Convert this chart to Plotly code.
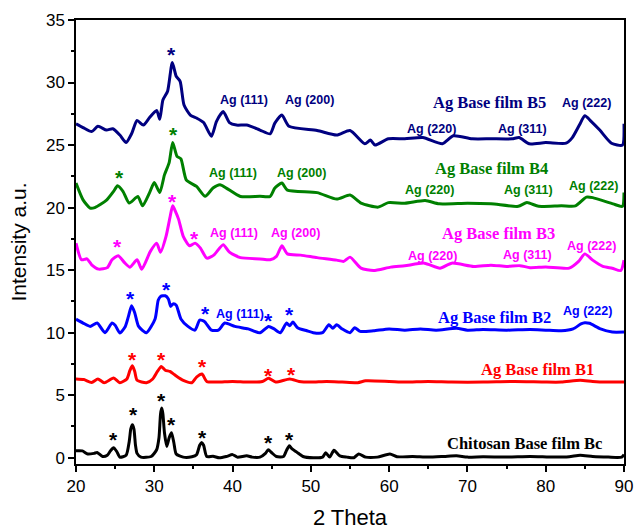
import plotly.graph_objects as go

# ---- XRD patterns (2-theta in degrees, intensity in arbitrary units, stacked) ----
bc_x = [20, 20.8, 21.5, 22.3, 22.7, 23.4, 24.0, 24.4, 24.8, 25.2, 25.6, 26.4, 26.8, 27.0, 27.2, 27.4, 27.6, 27.8, 28.3,
        29.6, 30.3, 30.6, 30.8, 30.95, 31.1, 31.3, 31.6, 31.9, 32.2, 32.5, 32.8, 33.7, 34.8, 35.4, 35.8, 36.05, 36.3,
        36.7, 37.5, 38.3, 39.2, 40.0, 40.6, 41.8, 42.5, 43.5, 44.2, 44.56, 45.0, 45.6, 46.5, 46.9, 47.25, 47.6, 48.2,
        49.0, 50.3, 51.5, 51.9, 52.4, 52.95, 53.7, 54.6, 55.5, 56.1, 57.0, 58.5, 60.1, 61.0, 63.0, 65.0, 67.0, 68.6,
        70.0, 72.0, 75.0, 78.0, 81.0, 83.0, 84.4, 86.0, 88.0, 89.7, 90]
bc_y = [0.56, 0.55, 0.3, 0.35, 0.42, 0.1, 0.2, 0.55, 0.8, 0.5, 0.05, 0.2, 1.3, 2.3, 2.64, 2.3, 1.0, 0.35, 0.05,
        0.1, 0.64, 1.6, 3.5, 3.97, 3.5, 2.0, 0.9, 1.6, 2.0, 1.2, 0.3, 0.05, 0.08, 0.24, 1.0, 1.22, 1.0,
        0.1, 0.12, 0.0, 0.1, 0.25, 0.05, 0.15, 0.05, 0.05, 0.35, 0.64, 0.4, 0.1, 0.1, 0.6, 0.96, 0.7, 0.45,
        0.1, 0.0, 0.05, 0.4, 0.05, 0.6, 0.15, 0.05, 0.0, 0.3, 0.05, 0.05, 0.3, 0.08, 0.1, 0.05, 0.1, 0.15,
        0.05, 0.08, 0.05, 0.1, 0.05, 0.08, 0.2, 0.1, 0.05, 0.05, 0.25]

b1_x = [20, 21.0, 22.0, 22.8, 23.6, 24.8, 25.6, 26.5, 26.9, 27.2, 27.5, 27.8, 29.0, 29.8, 30.4, 30.9, 31.4, 32.0,
        32.6, 33.7, 34.8, 35.4, 36.1, 36.7, 38, 40, 42, 43.8, 44.6, 45.5, 47.3, 48.5, 50, 52, 54, 56, 57, 60, 62,
        65, 68, 72, 76, 80, 82, 84.4, 86, 88, 90]
b1_y = [6.3, 6.25, 6.02, 6.3, 6.0, 6.37, 6.0, 6.3, 7.0, 7.35, 6.9, 6.2, 6.0, 6.3, 6.9, 7.3, 7.0, 6.9,
        6.63, 6.18, 6.0, 6.45, 6.69, 6.1, 6.05, 6.1, 6.05, 6.1, 6.35, 6.05, 6.3, 6.1, 6.05, 6.1, 6.05, 6.0, 6.15,
        6.1, 6.05, 6.1, 6.05, 6.05, 6.1, 6.05, 6.05, 6.2, 6.1, 6.05, 6.05]

b2_x = [20, 20.9, 21.8, 22.7, 23.7, 24.6, 25.0, 25.6, 26.3, 26.7, 27.1, 27.5, 28.0, 29.0, 30.1, 30.5, 30.8, 31.4,
        31.8, 32.1, 32.4, 32.8, 33.4, 34.3, 35.2, 35.8, 36.4, 37.3, 38.2, 39.0, 40.3, 42.0, 43.5, 44.6, 45.3, 46.1,
        46.9, 47.3, 47.7, 48.3, 49.5, 50.3, 51.5, 52.3, 52.8, 53.3, 54.0, 55.0, 55.6, 56.3, 58, 60, 62, 64, 66,
        68.6, 70, 72, 75, 78, 80, 82, 83.5, 84.5, 85.0, 85.6, 87, 88.5, 90]
b2_y = [11.08, 10.77, 10.5, 10.77, 10.0, 10.77, 10.6, 9.97, 10.5, 11.3, 12.15, 11.6, 10.5, 10.0, 11.1, 12.6, 12.9,
        12.95, 12.7, 12.1, 12.3, 12.2, 11.1, 10.5, 10.2, 11.0, 10.9, 10.2, 10.2, 10.77, 10.5, 10.3, 10.0, 10.5,
        10.3, 10.0, 10.77, 10.55, 10.85, 10.4, 10.15, 10.0, 10.0, 10.63, 10.35, 10.63, 10.3, 10.0, 10.4, 10.1,
        10.15, 10.3, 10.2, 10.3, 10.2, 10.35, 10.2, 10.25, 10.2, 10.25, 10.2, 10.15, 10.3, 10.7, 10.8, 10.75,
        10.3, 10.05, 10.05]

b3_x = [20, 20.7, 21.4, 22.0, 22.9, 24.0, 24.6, 25.4, 26.2, 26.9, 27.8, 28.4, 29.5, 30.3, 30.8, 31.5, 32.0, 32.35,
        32.7, 33.1, 33.7, 34.5, 35.2, 35.9, 36.7, 37.6, 38.8, 39.6, 41.0, 43.5, 44.8, 45.6, 46.3, 47.0, 48.7, 50.8,
        53.3, 54.2, 55.0, 56.4, 58.0, 60.2, 62.0, 64.5, 66.5, 68.0, 70.8, 73, 75, 76.7, 78, 80, 83.0, 84.2, 85.0,
        86.0, 87.3, 88.5, 89.6, 90]
b3_y = [17.16, 15.83, 15.9, 15.43, 15.08, 15.2, 15.83, 16.15, 15.6, 15.24, 15.83, 15.08, 16.5, 17.16, 16.44, 17.7,
        19.2, 20.14, 19.7, 19.08, 17.7, 16.95, 17.16, 16.76, 15.96, 16.2, 17.03, 16.44, 16.0, 15.9, 15.83, 16.1,
        16.95, 16.3, 16.2, 16.0, 15.8, 15.7, 16.04, 15.16, 14.97, 15.24, 15.35, 15.56, 15.16, 15.56, 15.3, 15.4,
        15.3, 15.36, 15.2, 15.25, 15.16, 15.7, 16.3, 15.8, 15.3, 15.15, 14.97, 15.8]

b4_x = [20, 20.9, 21.8, 22.4, 23.9, 24.8, 25.3, 26.0, 26.8, 27.9, 28.5, 29.4, 30.0, 30.7, 31.3, 31.9, 32.35, 32.9,
        33.4, 34.1, 35.4, 36.5, 37.5, 38.4, 39.2, 41.0, 43.5, 44.8, 45.4, 46.3, 47.0, 50.8, 53.3, 55.0, 56.4, 58.6,
        59.9, 62.0, 64.6, 66.4, 70, 73, 76.5, 77.6, 79.1, 82, 83.8, 85.2, 86.0, 88.6, 89.8, 90]
b4_y = [21.96, 20.62, 19.96, 20.0, 20.6, 21.3, 21.74, 21.3, 20.36, 20.89, 20.14, 21.2, 22.0, 21.2, 22.62, 23.6, 25.2,
        24.1, 23.9, 22.2, 21.69, 20.9, 21.56, 21.82, 21.56, 20.89, 20.9, 20.89, 21.56, 21.96, 21.4, 21.2, 20.68,
        21.0, 20.36, 20.04, 20.4, 20.35, 20.57, 20.3, 20.35, 20.3, 20.1, 20.4, 20.1, 20.15, 20.14, 20.84, 20.8,
        20.3, 20.1, 21.2]

b5_x = [20, 20.9, 22.0, 22.8, 23.9, 24.7, 25.6, 26.4, 27.1, 27.8, 28.6, 29.4, 30.3, 30.7, 31.1, 31.7, 32.3, 32.8,
        33.3, 33.8, 34.6, 35.4, 36.3, 37.3, 37.95, 38.8, 39.6, 40.5, 41.8, 43.5, 44.8, 45.4, 46.3, 47.2, 50.8, 53.3,
        55.0, 56.9, 57.6, 58.2, 59.9, 62, 64.3, 66.8, 68.2, 70.6, 73, 75.7, 76.6, 77.9, 80, 82.6, 83.4, 84.3, 85.0,
        85.8, 86.9, 88.4, 89.8, 90]
b5_y = [26.7, 26.4, 26.08, 26.5, 26.2, 26.3, 25.8, 25.2, 25.9, 26.96, 26.6, 27.2, 27.76, 27.06, 28.6, 29.3, 31.6,
        30.5, 30.1, 28.2, 27.4, 27.16, 26.8, 25.7, 26.9, 27.68, 26.8, 26.6, 26.6, 26.2, 25.9, 26.75, 27.4, 26.5,
        26.16, 25.8, 26.16, 25.1, 25.4, 25.0, 25.5, 25.5, 25.6, 25.1, 25.74, 25.5, 25.5, 25.5, 25.6, 25.1, 25.2,
        25.15, 25.6, 26.6, 27.34, 26.9, 26.2, 25.15, 25.0, 26.7]

series_names = ["Chitosan Base film Bc", "Ag Base film B1", "Ag Base film B2",
                "Ag Base film B3", "Ag Base film B4", "Ag Base film B5"]
series_colors = ["#000000", "#FF0000", "#0000FF", "#FF00FF", "#008000", "#000080"]
series_x = [bc_x, b1_x, b2_x, b3_x, b4_x, b5_x]
series_y = [bc_y, b1_y, b2_y, b3_y, b4_y, b5_y]

# label positions for the series names (data coords)
name_pos = [(77.35, 1.17), (79.0, 7.03), (73.5, 11.25), (74.0, 17.9), (73.1, 23.1), (72.8, 28.4)]

# chitosan reflections (asterisks) per pattern
star_pos = [
    [(24.77, 1.5), (27.3, 3.5), (30.95, 4.69), (32.2, 2.77), (36.1, 1.7), (44.56, 1.3), (47.25, 1.57)],
    [(27.2, 7.9), (30.95, 7.9), (36.1, 7.35), (44.56, 6.63), (47.5, 6.77)],
    [(27.0, 12.85), (31.5, 13.56), (36.6, 11.65), (44.65, 11.03), (47.3, 11.5)],
    [(25.3, 17.0), (32.35, 20.57), (35.2, 17.64)],
    [(25.5, 22.5), (32.4, 25.9)],
    [(32.2, 32.3)],
]

# silver reflections: (text, x, y) per pattern
ag_labels = [
    [],
    [],
    [("Ag (111)", 40.9, 11.5), ("Ag (222)", 85.4, 11.7)],
    [("Ag (111)", 40.2, 17.96), ("Ag (200)", 48.0, 17.96), ("Ag (220)", 65.5, 16.17),
     ("Ag (311)", 77.7, 16.2), ("Ag (222)", 85.9, 16.97)],
    [("Ag (111)", 40.0, 22.8), ("Ag (200)", 48.8, 22.8), ("Ag (220)", 65.1, 21.37),
     ("Ag (311)", 77.85, 21.37), ("Ag (222)", 86.1, 21.7)],
    [("Ag (111)", 41.4, 28.6), ("Ag (200)", 49.8, 28.6), ("Ag (220)", 65.4, 26.3),
     ("Ag (311)", 77.0, 26.3), ("Ag (222)", 85.2, 28.35)],
]

x_ticks = [20, 30, 40, 50, 60, 70, 80, 90]
y_ticks = [0, 5, 10, 15, 20, 25, 30, 35]

SANS = "Liberation Sans, Arial, sans-serif"
SERIF = "Liberation Serif, Times New Roman, serif"

fig = go.Figure()
for xs, ys, col, name in zip(series_x, series_y, series_colors, series_names):
    fig.add_trace(go.Scatter(x=xs, y=ys, mode="lines", name=name,
                             line=dict(color=col, width=3, shape="spline", smoothing=0.6),
                             showlegend=False))

annotations = []
for (nx, ny), col, name in zip(name_pos, series_colors, series_names):
    annotations.append(dict(x=nx, y=ny, text="<b>%s</b>" % name, showarrow=False,
                            font=dict(family=SERIF, size=16.5, color=col),
                            xanchor="center", yanchor="middle"))
for stars, col in zip(star_pos, series_colors):
    for sx, sy in stars:
        annotations.append(dict(x=sx, y=sy, text="<b>*</b>", showarrow=False,
                                font=dict(family=SANS, size=21, color=col),
                                xanchor="center", yanchor="middle", yshift=-1))
for labels, col in zip(ag_labels, series_colors):
    for txt, lx, ly in labels:
        annotations.append(dict(x=lx, y=ly, text="<b>%s</b>" % txt, showarrow=False,
                                font=dict(family=SANS, size=12.5, color=col),
                                xanchor="center", yanchor="middle"))

axis_common = dict(showline=True, linecolor="black", linewidth=1.5, mirror=True,
                   ticks="outside", ticklen=6, tickwidth=1.5, tickcolor="black",
                   showgrid=False, zeroline=False, automargin=False,
                   tickfont=dict(family=SANS, size=17, color="black"))

fig.update_layout(
    width=636, height=531,
    margin=dict(l=76, r=12, t=20, b=67),
    paper_bgcolor="white", plot_bgcolor="white",
    annotations=annotations,
    xaxis=dict(range=[20, 90], tickvals=x_ticks,
               minor=dict(ticks="outside", ticklen=3, tickwidth=1.5, tickcolor="black", dtick=5),
               title=dict(text="2 Theta", font=dict(family=SANS, size=22, color="black"), standoff=14),
               **axis_common),
    yaxis=dict(range=[-0.5, 35], tickvals=y_ticks,
               minor=dict(ticks="outside", ticklen=3, tickwidth=1.5, tickcolor="black", dtick=2.5, tick0=0),
               title=dict(text="Intensity a.u.", font=dict(family=SANS, size=21, color="black"), standoff=14),
               **axis_common),
)

fig.write_html("out.html")
